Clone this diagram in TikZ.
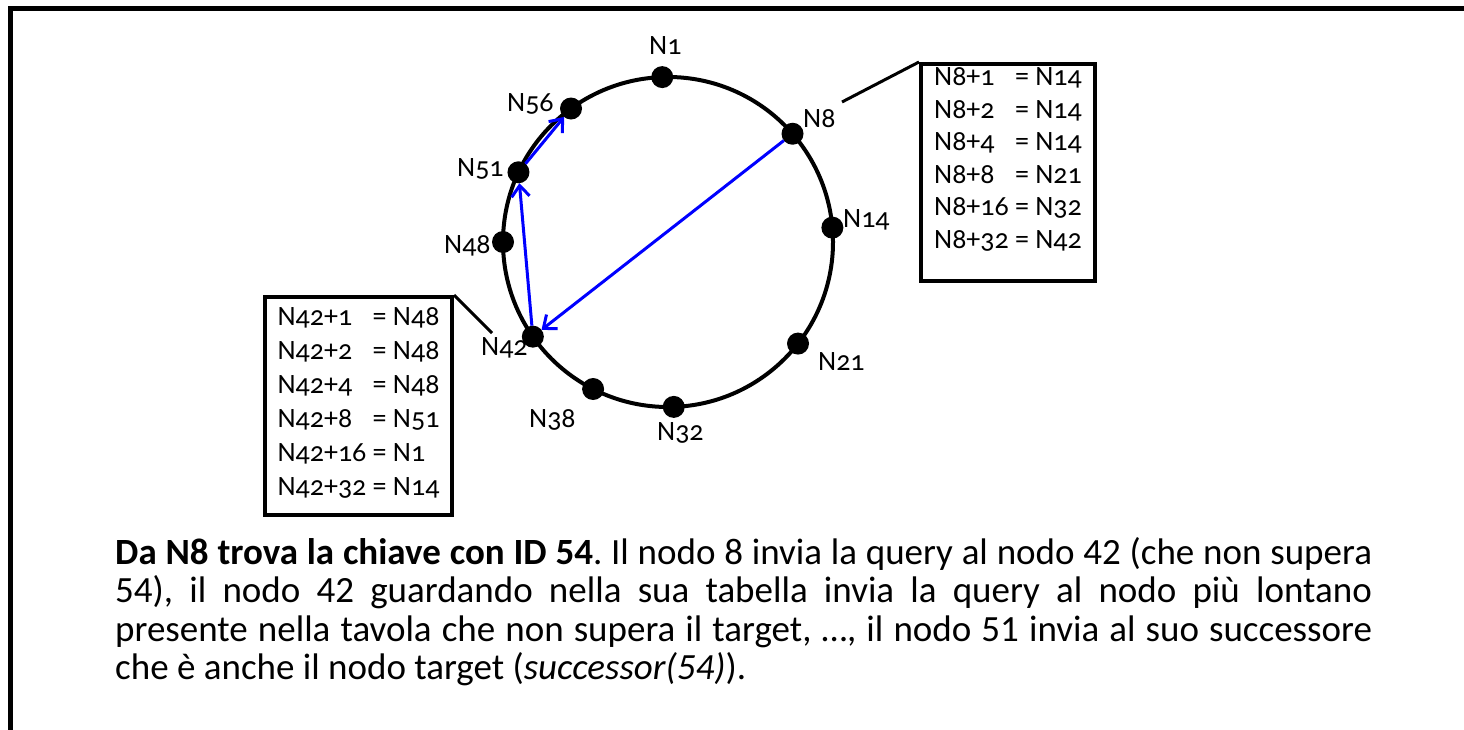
\documentclass[tikz,border=0pt]{standalone}
\usepackage{fontspec}
\setmainfont{Carlito}
\newfontfamily\lblfont[Numbers=OldStyle]{Carlito}
\usetikzlibrary{arrows.meta}
\begin{document}
\begin{tikzpicture}[x=1pt,y=-1pt,
  dot/.style={circle,fill=black,minimum size=22pt,inner sep=0pt,outer sep=0pt},
  lbl/.style={font=\lblfont\fontsize{28}{32}\selectfont, inner sep=0pt, anchor=base west},
  tbl/.style={draw, line width=4pt, inner sep=0pt, anchor=north west},
  arr/.style={blue, line width=3pt, -{Straight Barb[length=11pt,width=18pt,line width=3pt]}},
  callout/.style={line width=3pt}
]
\useasboundingbox (0,0) rectangle (1464,730);
\draw[line width=4.5pt] (10.5,735) -- (10.5,8.5) -- (1470,8.5);

\node[circle, draw, line width=4pt, minimum size=330pt, inner sep=0pt, outer sep=0pt] (ring) at (668,242) {};

\node[dot] (n1) at (ring.92) {};
\node[dot] (n8) at (ring.41) {};
\node[dot] (n14) at (ring.5) {};
\node[dot] (n21) at (ring.-38) {};
\node[dot] (n32) at (ring.-88) {};
\node[dot] (n38) at (ring.-117) {};
\node[dot] (n42) at (ring.-145) {};
\node[dot] (n48) at (ring.180) {};
\node[dot] (n51) at (ring.155) {};
\node[dot] (n56) at (ring.126) {};

\node[lbl] (l1) at (649,55) {N1};
\node[lbl] (l56) at (507,112) {N56};
\node[lbl] (l8) at (803,128) {N8};
\node[lbl] (l51) at (457,177) {N51};
\node[lbl] (l14) at (843,227) {N14};
\node[lbl] (l48) at (444,253) {N48};
\node[lbl] (l42) at (481,355) {N42};
\node[lbl] (l21) at (818,370) {N21};
\node[lbl] (l38) at (529,427) {N38};
\node[lbl] (l32) at (657,440) {N32};

\draw[arr] (n8) -- (n42);
\draw[arr] (n42) -- (n51);
\draw[arr] (n51) -- (n56);

\node[tbl, minimum width=174pt, text height=22pt, text depth=195pt,
      font=\lblfont\fontsize{28}{32.5}\selectfont] (t8) at (919,62)
  {\begin{tabular}[t]{@{}l@{ }l@{}}
   N8+1 & = N14\\ N8+2 & = N14\\ N8+4 & = N14\\ N8+8 & = N21\\ N8+16 & = N32\\ N8+32 & = N42
   \end{tabular}};
\node[tbl, minimum width=187pt, text height=28pt, text depth=190pt,
      font=\lblfont\fontsize{28}{34}\selectfont] (t42) at (263,295)
  {\begin{tabular}[t]{@{}l@{ }l@{}}
   N42+1 & = N48\\ N42+2 & = N48\\ N42+4 & = N48\\ N42+8 & = N51\\ N42+16 & = N1\\ N42+32 & = N14
   \end{tabular}};

\coordinate (c8) at (842,102);
\coordinate (c42) at (492,333);
\draw[callout] (c8) -- (t8.north west);
\draw[callout] (t42.north east) -- (c42);

\node[anchor=north west, text width=1257pt, align=justify, inner sep=0pt,
      font=\fontsize{37}{38.5}\selectfont\frenchspacing] (para) at (115,537)
  {\textbf{Da N8 trova la chiave con ID 54}. Il nodo 8 invia la query al nodo 42 (che non supera\linebreak
   54), il nodo 42 guardando nella sua tabella invia la query al nodo più lontano\linebreak
   presente nella tavola che non supera il target, …, il nodo 51 invia al suo successore\linebreak
   che è anche il nodo target (\textit{successor(54)}).};
\end{tikzpicture}
\end{document}
